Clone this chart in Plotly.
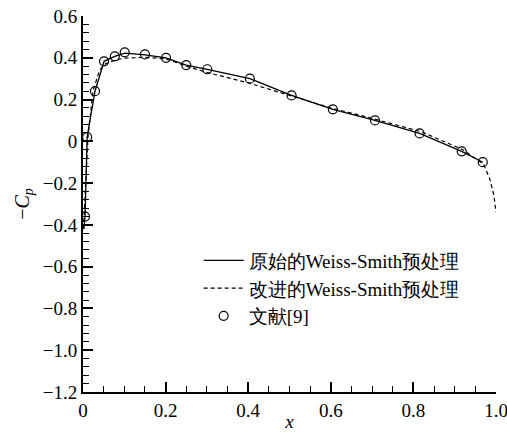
import plotly.graph_objects as go

# Reference data (文献[9])
ref_x = [0.005, 0.010, 0.029, 0.051, 0.077, 0.101, 0.150, 0.201, 0.250, 0.301, 0.404, 0.505, 0.605, 0.707, 0.815, 0.917, 0.968]
ref_y = [-0.36, 0.02, 0.24, 0.383, 0.407, 0.426, 0.416, 0.40, 0.365, 0.345, 0.30, 0.22, 0.153, 0.10, 0.038, -0.048, -0.10]

# Original Weiss-Smith preconditioning
orig_x = [0.002, 0.005, 0.010, 0.029, 0.051, 0.077, 0.101, 0.150, 0.201, 0.250, 0.301, 0.404, 0.505, 0.605, 0.707, 0.815, 0.917, 0.968]
orig_y = [-0.42, -0.36, 0.02, 0.24, 0.383, 0.407, 0.422, 0.414, 0.400, 0.365, 0.345, 0.300, 0.220, 0.153, 0.100, 0.038, -0.048, -0.100]

# Improved Weiss-Smith preconditioning
impr_x = [0.001, 0.006, 0.012, 0.024, 0.040, 0.055, 0.080, 0.100, 0.150, 0.200, 0.250, 0.300, 0.400, 0.500, 0.600, 0.700, 0.820, 0.920, 0.970, 0.985, 0.995, 1.000]
impr_y = [-0.42, -0.20, 0.02, 0.24, 0.34, 0.372, 0.390, 0.398, 0.402, 0.395, 0.360, 0.330, 0.280, 0.220, 0.160, 0.110, 0.045, -0.040, -0.110, -0.180, -0.260, -0.340]

yticks = [-1.2, -1.0, -0.8, -0.6, -0.4, -0.2, 0, 0.2, 0.4, 0.6]
yticktext = ["−1.2", "−1.0", "−0.8", "−0.6", "−0.4", "−0.2", "0", "0.2", "0.4", "0.6"]
xticks = [0, 0.2, 0.4, 0.6, 0.8, 1.0]
xticktext = ["0", "0.2", "0.4", "0.6", "0.8", "1.0"]

FONT = "Times New Roman"

fig = go.Figure()
fig.add_trace(go.Scatter(x=orig_x, y=orig_y, mode="lines", name="原始的Weiss-Smith预处理",
                         line=dict(color="black", width=1.3)))
fig.add_trace(go.Scatter(x=impr_x, y=impr_y, mode="lines", name="改进的Weiss-Smith预处理",
                         line=dict(color="black", width=1.2, dash="4px,3px")))
fig.add_trace(go.Scatter(x=ref_x, y=ref_y, mode="markers", name="文献[9]",
                         marker=dict(symbol="circle-open", size=9, color="black", line=dict(width=1.2))))

axis_common = dict(showline=True, linecolor="black", linewidth=2, mirror=False,
                   showgrid=False, zeroline=False, ticks="inside", ticklen=10,
                   tickwidth=1.6, tickcolor="black", ticklabeloverflow="allow",
                   tickfont=dict(family=FONT, size=19, color="#000000"))

fig.update_xaxes(range=[0, 1.0], tickvals=xticks, ticktext=xticktext,
                 minor=dict(ticks="inside", ticklen=6, dtick=0.05, tickwidth=1.3, tickcolor="black"),
                 title=dict(text="<i>x</i>", font=dict(family=FONT, size=19, color="#000000"), standoff=0),
                 **axis_common)
fig.update_yaxes(range=[-1.2, 0.6], tickvals=yticks, ticktext=yticktext,
                 minor=dict(ticks="inside", ticklen=6, dtick=0.04, tick0=0, tickwidth=1.3, tickcolor="black"),
                 title=dict(text="−<i>C</i><sub><i>p</i></sub>", font=dict(family=FONT, size=20, color="#000000"), standoff=8),
                 **axis_common)

fig.update_layout(
    template="none",
    width=507, height=432,
    margin=dict(l=83, r=11, t=16, b=40),
    plot_bgcolor="white", paper_bgcolor="white",
    font=dict(family=FONT, size=19, color="#000000"),
    legend=dict(x=0.28, y=0.40, xanchor="left", yanchor="top",
                bgcolor="rgba(0,0,0,0)", borderwidth=0, tracegroupgap=0,
                itemwidth=40, font=dict(family=FONT, size=19, color="#000000")),
    showlegend=True,
)

fig.write_html("out.html")
